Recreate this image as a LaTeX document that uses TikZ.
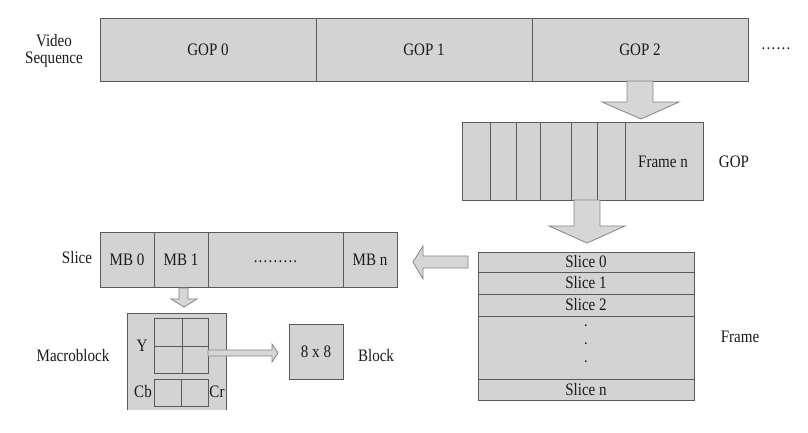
\documentclass[tikz,border=0pt]{standalone}
\usepackage{fontspec}
\setmainfont{Liberation Serif}[FakeStretch=0.86]
\definecolor{boxgray}{HTML}{D3D3D3}
\definecolor{edgegray}{HTML}{5A5A5A}
\definecolor{arrowgray}{HTML}{D6D6D6}
\definecolor{arrowedge}{HTML}{858585}
\definecolor{txt}{HTML}{1A1A1A}
\newcommand{\dd}{.\kern1.2pt}
\begin{document}
\begin{tikzpicture}[x=1pt,y=-1pt,
  box/.style={fill=boxgray, draw=edgegray, line width=0.8pt},
  sep/.style={draw=edgegray, line width=0.8pt},
  barrow/.style={fill=arrowgray, draw=arrowedge, line width=0.8pt, line join=miter},
  lbl/.style={inner sep=0pt, text height=11.6pt, text depth=0pt, text=txt, font=\fontsize{17.5}{20}\selectfont},
  vdot/.style={inner sep=0pt, text height=1pt, text depth=0pt, text=txt, anchor=base, font=\fontsize{12}{12}\bfseries}]
\useasboundingbox (0,0) rectangle (808,432);
\fill[white] (0,0) rectangle (808,432);

% ---- Video sequence bar
\draw[box] (100,18) rectangle (748,81);
\draw[sep] (316,18) -- (316,81) (532,18) -- (532,81);
\node[lbl] (gop0) at (208,49.5) {GOP 0};
\node[lbl] (gop1) at (424,49.5) {GOP 1};
\node[lbl] (gop2) at (640,49.5) {GOP 2};
\node[lbl] (vid) at (54,41) {Video};
\node[lbl] (seq) at (54,58) {Sequence};
\node[lbl] (more) at (776,44) {\dd\dd\dd\dd\dd.};

% ---- arrow to GOP
\draw[barrow] (627,81) -- (627,102) -- (602,102) -- (641,119) -- (679,102) -- (653,102) -- (653,81) -- cycle;

% ---- GOP box
\draw[box] (462,122) rectangle (703,200);
\foreach \x in {490,516,540,571,597,625} \draw[sep] (\x,122) -- (\x,200);
\node[lbl] (framen) at (663,162) {Frame n};
\node[lbl] (goplbl) at (734,162) {GOP};

% ---- arrow to Frame
\draw[barrow] (574,200) -- (574,226) -- (549,226) -- (587,243) -- (625,226) -- (600,226) -- (600,200) -- cycle;

% ---- Frame box
\draw[box] (478,252) rectangle (694,400);
\foreach \y in {272,294,316,379} \draw[sep] (478,\y) -- (694,\y);
\node[lbl] (s0) at (586,262) {Slice 0};
\node[lbl] (s1) at (586,283) {Slice 1};
\node[lbl] (s2) at (586,305) {Slice 2};
\node[vdot] (d1) at (586,326) {.};
\node[vdot] (d2) at (586,344) {.};
\node[vdot] (d3) at (586,362) {.};
\node[lbl] (sn) at (586,389.5) {Slice n};
\node[lbl] (framelbl) at (740,337) {Frame};

% ---- arrow to Slice
\draw[barrow] (468,256) -- (423,256) -- (423,246) -- (413,262) -- (423,279) -- (423,268) -- (468,268) -- cycle;

% ---- Slice bar
\draw[box] (100,232) rectangle (397,287);
\draw[sep] (154,232) -- (154,287) (208,232) -- (208,287) (343,232) -- (343,287);
\node[lbl] (slicelbl) at (77,258) {Slice};
\node[lbl] (mb0) at (127,259.5) {MB 0};
\node[lbl] (mb1) at (181,259.5) {MB 1};
\node[lbl] (mbdots) at (275.5,256.5) {\dd\dd\dd\dd\dd\dd\dd\dd.};
\node[lbl] (mbn) at (370,259.5) {MB n};

% ---- arrow to Macroblock
\draw[barrow] (179,288) -- (179,299) -- (171,299) -- (184,307) -- (197,299) -- (188,299) -- (188,288) -- cycle;

% ---- Macroblock
\fill[boxgray] (127,313) rectangle (226,410);
\draw[sep] (127,410) -- (127,313) -- (226,313) -- (226,410);
\draw[box] (154,318) rectangle (208,373);
\draw[sep] (182,318) -- (182,373) (154,346) -- (208,346);
\draw[box] (154,379) rectangle (208,406);
\draw[sep] (181,379) -- (181,406);
\node[lbl] (ylbl) at (142,346) {Y};
\node[lbl] (cb) at (143,392) {Cb};
\node[lbl] (cr) at (217,392) {Cr};
\node[lbl] (mblbl) at (73,356) {Macroblock};

% ---- arrow to Block
\draw[barrow] (208,350) -- (272,350) -- (272,344) -- (278,353) -- (272,362) -- (272,356) -- (208,356) -- cycle;

% ---- Block
\draw[box] (289,324) rectangle (343,379);
\node[lbl] (b8) at (316,352) {8 x 8};
\node[lbl] (blocklbl) at (376,356) {Block};
\end{tikzpicture}
\end{document}
